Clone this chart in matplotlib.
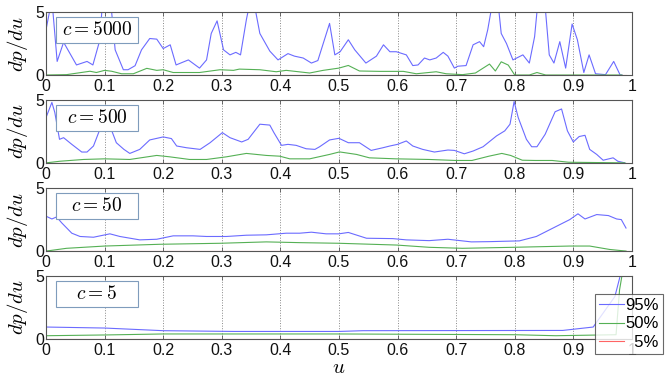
import numpy as np
import matplotlib
matplotlib.use('Agg')
import matplotlib.pyplot as plt
from matplotlib.patches import Rectangle

plt.rcParams['font.family'] = ['Liberation Sans', 'DejaVu Sans']
plt.rcParams['mathtext.fontset'] = 'cm'

# c = 5000
u1_hi = [0, 0.01, 0.019, 0.03, 0.052, 0.07, 0.08, 0.092, 0.098, 0.11, 0.118, 0.132, 0.14, 0.152,
         0.163, 0.177, 0.189, 0.2, 0.212, 0.222, 0.243, 0.262, 0.274, 0.282, 0.292, 0.303, 0.314,
         0.324, 0.332, 0.342, 0.349, 0.356, 0.365, 0.382, 0.396, 0.413, 0.424, 0.439, 0.453, 0.464,
         0.484, 0.493, 0.502, 0.516, 0.527, 0.546, 0.564, 0.576, 0.587, 0.598, 0.615, 0.626, 0.635,
         0.646, 0.655, 0.666, 0.678, 0.686, 0.697, 0.703, 0.717, 0.729, 0.74, 0.747, 0.754, 0.763,
         0.771, 0.777, 0.786, 0.797, 0.814, 0.825, 0.834, 0.84, 0.851, 0.859, 0.867, 0.877, 0.887,
         0.898, 0.907, 0.918, 0.927, 0.938, 0.955, 0.969, 0.98, 0.983]
p1_hi = [3.6, 6.0, 1.08, 2.6, 0.8, 1.08, 0.8, 2.8, 7.0, 6.0, 2.0, 0.42, 0.42, 0.74,
         2.0, 2.9, 2.85, 2.1, 2.4, 0.8, 1.2, 0.55, 1.2, 3.3, 4.3, 2.0, 1.6,
         1.8, 1.6, 4.4, 6.0, 5.5, 3.3, 1.9, 1.2, 1.7, 1.5, 1.35, 0.95, 1.15,
         4.1, 1.6, 1.85, 2.8, 2.0, 0.95, 1.5, 2.4, 1.85, 1.85, 1.6, 0.75, 0.8,
         1.35, 1.2, 1.35, 1.8, 1.5, 0.55, 0.7, 0.75, 2.4, 2.65, 2.25, 3.6, 6.0,
         6.0, 3.3, 2.5, 1.2, 1.6, 0.95, 3.05, 6.0, 6.0, 1.6, 0.95, 2.65, 0.55,
         4.05, 2.8, 0.2, 1.6, 0.1, 0.03, 1.08, 0.0, 0.0]
u1_mid = [0, 0.035, 0.075, 0.086, 0.1, 0.112, 0.129, 0.149, 0.172, 0.189, 0.2, 0.217, 0.262,
          0.297, 0.32, 0.33, 0.365, 0.393, 0.41, 0.45, 0.473, 0.5, 0.516, 0.535, 0.57, 0.61,
          0.632, 0.666, 0.683, 0.711, 0.733, 0.757, 0.767, 0.777, 0.789, 0.8, 0.825, 0.838,
          0.853, 0.983]
p1_mid = [0, 0.03, 0.3, 0.2, 0.37, 0.3, 0.1, 0.1, 0.53, 0.37, 0.42, 0.2, 0.2,
          0.42, 0.37, 0.47, 0.42, 0.26, 0.37, 0.16, 0.37, 0.55, 0.76, 0.32, 0.29, 0.29,
          0.1, 0.26, 0.1, 0.03, 0.16, 0.87, 0.32, 1.05, 0.79, 0, 0, 0.2,
          0, 0]

# c = 500
u2_hi = [0, 0.01, 0.015, 0.023, 0.03, 0.044, 0.061, 0.07, 0.081, 0.092, 0.1, 0.109, 0.12,
         0.133, 0.143, 0.16, 0.177, 0.2, 0.214, 0.223, 0.24, 0.263, 0.28, 0.301, 0.314, 0.334,
         0.345, 0.365, 0.382, 0.389, 0.402, 0.413, 0.427, 0.444, 0.459, 0.467, 0.484, 0.5,
         0.516, 0.535, 0.555, 0.575, 0.587, 0.6, 0.615, 0.626, 0.643, 0.663, 0.686, 0.697,
         0.714, 0.729, 0.746, 0.769, 0.783, 0.792, 0.799, 0.806, 0.82, 0.829, 0.838, 0.852,
         0.869, 0.88, 0.89, 0.9, 0.91, 0.92, 0.928, 0.94, 0.951, 0.968, 0.976, 0.988]
p2_hi = [3.6, 4.8, 4.0, 1.87, 2.0, 1.47, 0.86, 0.86, 1.34, 2.67, 3.07, 2.94, 1.6,
         1.07, 0.75, 1.07, 1.82, 2.06, 1.93, 1.34, 1.2, 1.07, 1.6, 2.4, 2.0, 1.66,
         1.87, 3.07, 3.0, 2.4, 1.39, 1.47, 1.39, 1.12, 1.07, 1.28, 1.82, 1.95,
         1.6, 1.6, 0.99, 1.2, 1.34, 1.47, 1.74, 1.34, 1.07, 0.86, 1.02, 0.99,
         0.72, 0.94, 1.28, 2.14, 2.54, 3.07, 4.87, 3.6, 1.87, 1.28, 1.28, 2.27,
         4.06, 4.28, 2.54, 1.66, 2.09, 2.19, 1.07, 0.67, 0.21, 0.4, 0.13, 0.0]
u2_mid = [0, 0.024, 0.064, 0.1, 0.143, 0.189, 0.211, 0.245, 0.274, 0.308, 0.342, 0.376, 0.399,
          0.416, 0.45, 0.484, 0.501, 0.53, 0.552, 0.597, 0.654, 0.699, 0.727, 0.756, 0.778,
          0.793, 0.813, 0.835, 0.864, 0.892, 0.988]
p2_mid = [0, 0.13, 0.27, 0.32, 0.27, 0.59, 0.48, 0.27, 0.27, 0.48, 0.75, 0.59, 0.53,
          0.32, 0.32, 0.67, 0.87, 0.67, 0.4, 0.32, 0.27, 0.19, 0.19, 0.53, 0.75,
          0.59, 0.21, 0.19, 0.19, 0.05, 0]

# c = 50
u3_hi = [0, 0.01, 0.018, 0.027, 0.044, 0.058, 0.081, 0.109, 0.126, 0.16, 0.189, 0.217, 0.251,
         0.274, 0.308, 0.342, 0.376, 0.41, 0.433, 0.453, 0.478, 0.5, 0.516, 0.547, 0.592, 0.615,
         0.654, 0.686, 0.726, 0.757, 0.808, 0.837, 0.871, 0.894, 0.908, 0.92, 0.94, 0.96, 0.974,
         0.982, 0.99]
p3_hi = [2.77, 2.55, 2.71, 2.23, 1.42, 1.16, 1.1, 1.37, 1.16, 0.89, 0.94, 1.21, 1.21,
         1.16, 1.16, 1.26, 1.29, 1.42, 1.42, 1.5, 1.37, 1.37, 1.48, 1.02, 0.99, 0.89,
         0.83, 0.94, 0.73, 0.75, 0.81, 1.16, 1.96, 2.5, 2.96, 2.55, 2.9, 2.82, 2.55,
         2.5, 1.83]
u3_mid = [0, 0.035, 0.1, 0.194, 0.297, 0.376, 0.433, 0.5, 0.598, 0.654, 0.711, 0.797, 0.894,
          0.928, 0.962, 0.99]
p3_mid = [0, 0.22, 0.4, 0.54, 0.62, 0.73, 0.67, 0.62, 0.48, 0.3, 0.22, 0.3, 0.4,
          0.4, 0.13, 0]

# c = 5
u4_hi = [0, 0.1, 0.2, 0.32, 0.5, 0.541, 0.882, 0.934, 0.971, 0.98, 0.99]
p4_hi = [0.95, 0.87, 0.66, 0.6, 0.6, 0.66, 0.68, 0.95, 3.37, 5.0, 7.0]
u4_mid = [0, 0.1, 0.2, 0.5, 0.8, 0.87, 0.973, 0.979, 0.983, 0.99]
p4_mid = [0.26, 0.32, 0.4, 0.4, 0.34, 0.26, 0.34, 3.9, 5.0, 7.0]

u_lo = [0, 0.99]
p_lo = [0, 0]

labels = ['$c = 5000$', '$c = 500$', '$c = 50$', '$c = 5$']
leg_labels = ['95%', '50%', '\u20075%']
series = [(u1_hi, p1_hi, u1_mid, p1_mid), (u2_hi, p2_hi, u2_mid, p2_mid),
          (u3_hi, p3_hi, u3_mid, p3_mid), (u4_hi, p4_hi, u4_mid, p4_mid)]
xticks = np.round(np.arange(0, 1.01, 0.1), 1)
xticklabels = ['0', '0.1', '0.2', '0.3', '0.4', '0.5', '0.6', '0.7', '0.8', '0.9', '1']

c_hi = '#6b6bff'
c_mid = '#55b055'
c_lo = '#ff6464'
axcol = '#555555'

fig = plt.figure(figsize=(6.68, 3.77), dpi=100)
bottoms = [0.801, 0.568, 0.334, 0.1008]
for i, (uh, ph, um, pm) in enumerate(series):
    ax = fig.add_axes([0.0689, bottoms[i], 0.877, 0.167])
    lo, = ax.plot(u_lo, p_lo, color=c_lo, lw=0.8, zorder=1)
    hi, = ax.plot(uh, ph, color=c_hi, lw=0.8)
    mid, = ax.plot(um, pm, color=c_mid, lw=0.8)
    ax.set_xlim(0, 1)
    ax.set_ylim(0, 5)
    ax.set_xticks(xticks)
    ax.set_xticklabels(xticklabels)
    ax.set_yticks([0, 5])
    ax.tick_params(direction='in', length=3, width=0.6, colors=axcol, labelcolor='#111111',
                   labelsize=11.5, top=True, right=True, pad=3)
    ax.tick_params(axis='y', pad=1)
    for s in ax.spines.values():
        s.set_color(axcol)
        s.set_linewidth(0.8)
    ax.grid(axis='x', linestyle=':', color='#888888', linewidth=0.7)
    ax.set_ylabel('$dp/du$', fontsize=15, labelpad=4)
    ax.add_patch(Rectangle((0.017, 0.51), 0.14, 0.41, transform=ax.transAxes,
                           facecolor='white', edgecolor='#7f9cbc', linewidth=0.8, zorder=5))
    ax.text(0.087, 0.715, labels[i], transform=ax.transAxes, fontsize=14,
            ha='center', va='center', zorder=6)
    if i == 3:
        ax.set_xlabel('$u$', fontsize=15, labelpad=0)

leg = fig.legend([hi, mid, lo], leg_labels, loc='upper left',
                 bbox_to_anchor=(595 / 668, 1 - 294 / 377), fontsize=12,
                 frameon=True, fancybox=False, edgecolor='#444444',
                 handlelength=1.5, handletextpad=0.05, borderpad=0.25,
                 labelspacing=0.2, borderaxespad=0)
leg.get_frame().set_linewidth(0.8)

fig.savefig('out.png', dpi=100)
